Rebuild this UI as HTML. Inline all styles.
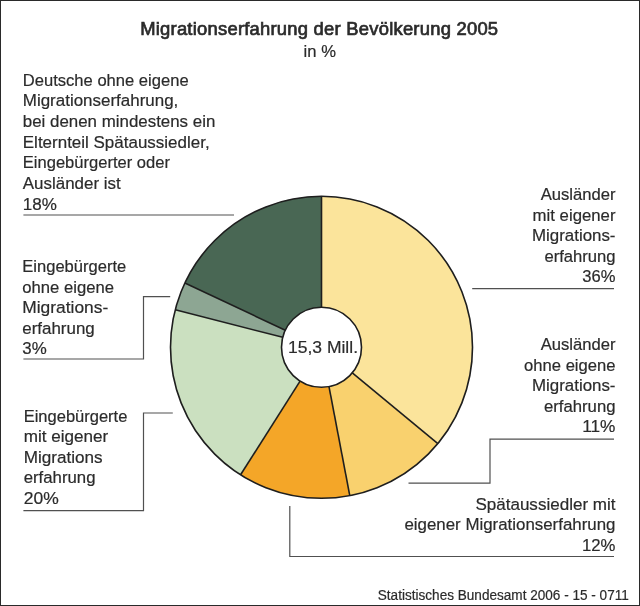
<!DOCTYPE html>
<html><head><meta charset="utf-8"><style>
html,body{margin:0;padding:0;background:#fff;}
body{width:640px;height:606px;overflow:hidden;}
svg{display:block;will-change:transform;}
text{font-family:"Liberation Sans", sans-serif;fill:#2b2b2b;stroke:#2b2b2b;stroke-width:0.2px;}
.ttl{stroke:#2b2b2b;stroke-width:0.7px;}
</style></head><body>
<svg width="640" height="606" viewBox="0 0 640 606">
<rect x="0.5" y="0.5" width="639" height="605" fill="#fff" stroke="#2a2a2a" stroke-width="1"/>
<g fill="none" stroke="#505050" stroke-width="1.2"><path d="M23.4,215.0 H234"/><path d="M23.4,359 H143.5 V296.6 H170.2"/><path d="M23.4,510.7 H143.5 V413 H172.8"/><path d="M472.2,288.6 H614"/><path d="M408.5,483.1 H490 V439.2 H614"/><path d="M289.8,506.1 V556.5 H614"/></g>
<g><path d="M321.50,347.30 L321.50,196.30 A151.0,151.0 0 0 1 437.85,443.55 Z" fill="#FBE49B"/><path d="M321.50,347.30 L437.85,443.55 A151.0,151.0 0 0 1 349.79,495.63 Z" fill="#F9D16E"/><path d="M321.50,347.30 L349.79,495.63 A151.0,151.0 0 0 1 240.59,474.79 Z" fill="#F4A628"/><path d="M321.50,347.30 L240.59,474.79 A151.0,151.0 0 0 1 175.24,309.75 Z" fill="#CBE0C0"/><path d="M321.50,347.30 L175.24,309.75 A151.0,151.0 0 0 1 184.87,283.01 Z" fill="#8DA693"/><path d="M321.50,347.30 L184.87,283.01 A151.0,151.0 0 0 1 321.50,196.30 Z" fill="#496754"/></g>
<g stroke="#1e1e1e" stroke-width="1.6"><line x1="321.50" y1="307.30" x2="321.50" y2="196.30"/><line x1="352.32" y1="372.80" x2="437.85" y2="443.55"/><line x1="329.00" y1="386.59" x2="349.79" y2="495.63"/><line x1="300.07" y1="381.07" x2="240.59" y2="474.79"/><line x1="282.76" y1="337.35" x2="175.24" y2="309.75"/><line x1="285.31" y1="330.27" x2="184.87" y2="283.01"/></g>
<circle cx="321.5" cy="347.3" r="151.0" fill="none" stroke="#1e1e1e" stroke-width="1.6"/>
<circle cx="321.5" cy="347.3" r="40.0" fill="#fff" stroke="#1e1e1e" stroke-width="1.6"/>
<g><text class="ttl" x="140.2" y="35.3" text-anchor="start" font-size="18.4" font-weight="normal" textLength="357.9" lengthAdjust="spacing">Migrationserfahrung der Bevölkerung 2005</text><text x="303.6" y="56.7" text-anchor="start" font-size="16.6" font-weight="normal" textLength="32.3" lengthAdjust="spacingAndGlyphs">in %</text><text x="22.8" y="85.6" text-anchor="start" font-size="17.2" font-weight="normal" textLength="165.8" lengthAdjust="spacingAndGlyphs">Deutsche ohne eigene</text><text x="22.8" y="106.25" text-anchor="start" font-size="17.2" font-weight="normal" textLength="155.5" lengthAdjust="spacingAndGlyphs">Migrationserfahrung,</text><text x="22.8" y="126.9" text-anchor="start" font-size="17.2" font-weight="normal" textLength="192.5" lengthAdjust="spacingAndGlyphs">bei denen mindestens ein</text><text x="22.8" y="147.55" text-anchor="start" font-size="17.2" font-weight="normal" textLength="186.8" lengthAdjust="spacingAndGlyphs">Elternteil Spätaussiedler,</text><text x="22.8" y="168.2" text-anchor="start" font-size="17.2" font-weight="normal" textLength="147.1" lengthAdjust="spacingAndGlyphs">Eingebürgerter oder</text><text x="22.8" y="188.85" text-anchor="start" font-size="17.2" font-weight="normal" textLength="97.9" lengthAdjust="spacingAndGlyphs">Ausländer ist</text><text x="22.8" y="209.5" text-anchor="start" font-size="17.2" font-weight="normal" textLength="34.1" lengthAdjust="spacingAndGlyphs">18%</text><text x="22.3" y="272.0" text-anchor="start" font-size="17.2" font-weight="normal" textLength="103.9" lengthAdjust="spacingAndGlyphs">Eingebürgerte</text><text x="22.3" y="292.5" text-anchor="start" font-size="17.2" font-weight="normal" textLength="91.6" lengthAdjust="spacingAndGlyphs">ohne eigene</text><text x="22.3" y="313.0" text-anchor="start" font-size="17.2" font-weight="normal" textLength="85.9" lengthAdjust="spacingAndGlyphs">Migrations-</text><text x="22.3" y="333.5" text-anchor="start" font-size="17.2" font-weight="normal" textLength="72.4" lengthAdjust="spacingAndGlyphs">erfahrung</text><text x="22.3" y="354.0" text-anchor="start" font-size="17.2" font-weight="normal" textLength="24.4" lengthAdjust="spacingAndGlyphs">3%</text><text x="23.7" y="421.9" text-anchor="start" font-size="17.2" font-weight="normal" textLength="103.7" lengthAdjust="spacingAndGlyphs">Eingebürgerte</text><text x="23.7" y="442.4" text-anchor="start" font-size="17.2" font-weight="normal" textLength="84.5" lengthAdjust="spacingAndGlyphs">mit eigener</text><text x="23.7" y="462.9" text-anchor="start" font-size="17.2" font-weight="normal" textLength="78.9" lengthAdjust="spacingAndGlyphs">Migrations</text><text x="23.7" y="483.4" text-anchor="start" font-size="17.2" font-weight="normal" textLength="71.8" lengthAdjust="spacingAndGlyphs">erfahrung</text><text x="23.7" y="503.9" text-anchor="start" font-size="17.2" font-weight="normal" textLength="35.0" lengthAdjust="spacingAndGlyphs">20%</text><text x="540.7" y="200.2" text-anchor="start" font-size="17.2" font-weight="normal" textLength="74.8" lengthAdjust="spacingAndGlyphs">Ausländer</text><text x="532.6" y="220.7" text-anchor="start" font-size="17.2" font-weight="normal" textLength="82.9" lengthAdjust="spacingAndGlyphs">mit eigener</text><text x="532.0" y="241.2" text-anchor="start" font-size="17.2" font-weight="normal" textLength="83.5" lengthAdjust="spacingAndGlyphs">Migrations-</text><text x="544.4" y="261.7" text-anchor="start" font-size="17.2" font-weight="normal" textLength="71.1" lengthAdjust="spacingAndGlyphs">erfahrung</text><text x="582.3" y="282.2" text-anchor="start" font-size="17.2" font-weight="normal" textLength="33.2" lengthAdjust="spacingAndGlyphs">36%</text><text x="540.7" y="350.3" text-anchor="start" font-size="17.2" font-weight="normal" textLength="74.8" lengthAdjust="spacingAndGlyphs">Ausländer</text><text x="524.1" y="370.8" text-anchor="start" font-size="17.2" font-weight="normal" textLength="91.4" lengthAdjust="spacingAndGlyphs">ohne eigene</text><text x="532.0" y="391.3" text-anchor="start" font-size="17.2" font-weight="normal" textLength="83.5" lengthAdjust="spacingAndGlyphs">Migrations-</text><text x="543.9" y="411.8" text-anchor="start" font-size="17.2" font-weight="normal" textLength="71.6" lengthAdjust="spacingAndGlyphs">erfahrung</text><text x="582.2" y="432.3" text-anchor="start" font-size="17.2" font-weight="normal" textLength="33.3" lengthAdjust="spacingAndGlyphs">11%</text><text x="475.4" y="509.8" text-anchor="start" font-size="17.2" font-weight="normal" textLength="140.1" lengthAdjust="spacingAndGlyphs">Spätaussiedler mit</text><text x="404.4" y="530.3" text-anchor="start" font-size="17.2" font-weight="normal" textLength="211.1" lengthAdjust="spacingAndGlyphs">eigener Migrationserfahrung</text><text x="582.0" y="550.8" text-anchor="start" font-size="17.2" font-weight="normal" textLength="33.5" lengthAdjust="spacingAndGlyphs">12%</text><text x="288.0" y="352.8" text-anchor="start" font-size="17.2" font-weight="normal" textLength="70.0" lengthAdjust="spacingAndGlyphs">15,3 Mill.</text><text x="377.8" y="599.7" text-anchor="start" font-size="14.0" font-weight="normal" textLength="251.0" lengthAdjust="spacingAndGlyphs">Statistisches Bundesamt 2006 - 15 - 0711</text></g>
</svg>
</body></html>
